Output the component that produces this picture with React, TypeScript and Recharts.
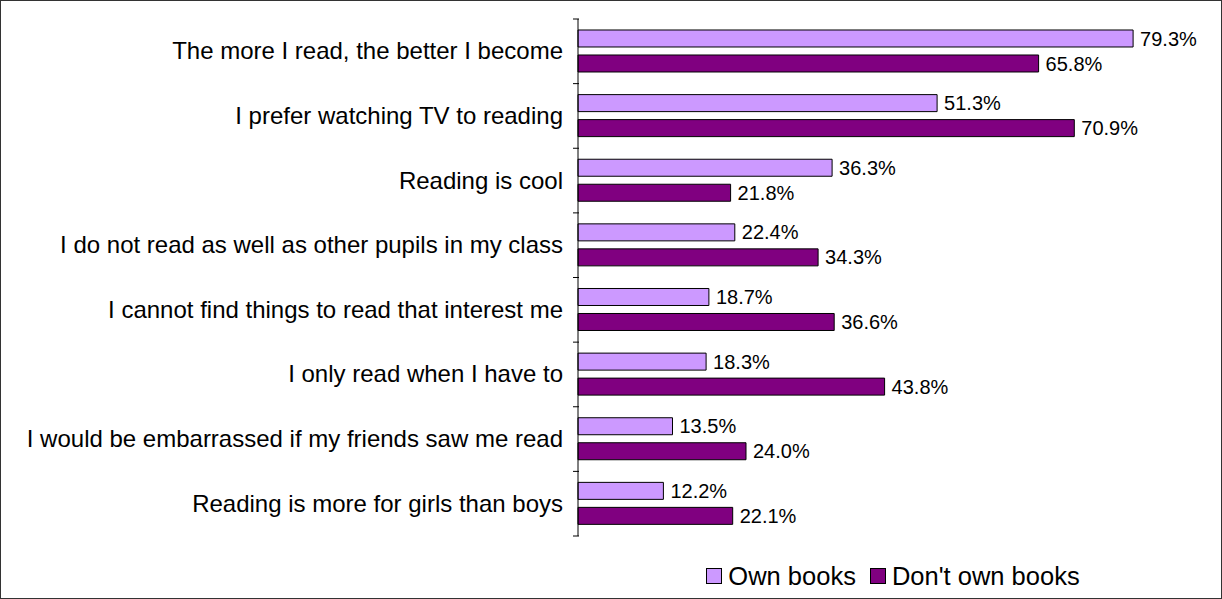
import React from 'react'
import { BarChart, Bar, XAxis, YAxis, Legend, LabelList } from 'recharts'

const categories = [
  'The more I read, the better I become',
  'I prefer watching TV to reading',
  'Reading is cool',
  'I do not read as well as other pupils in my class',
  'I cannot find things to read that interest me',
  'I only read when I have to',
  'I would be embarrassed if my friends saw me read',
  'Reading is more for girls than boys',
]
const ownBooks = [79.3, 51.3, 36.3, 22.4, 18.7, 18.3, 13.5, 12.2]
const noBooks = [65.8, 70.9, 21.8, 34.3, 36.6, 43.8, 24.0, 22.1]

const SERIES = [
  { key: 'own', name: 'Own books', color: '#CC99FF' },
  { key: 'dont', name: "Don't own books", color: '#800080' },
]

const data = categories.map((c, i) => ({ cat: c, own: ownBooks[i], dont: noBooks[i] }))

const FONT = '"Liberation Sans", Arial, sans-serif'
const pct = (v: any) => `${Number(v).toFixed(1)}%`

function CatTick({ x, y, payload, index }: any) {
  const half = payload?.offset ?? 0
  const last = index === categories.length - 1
  return (
    <g>
      <line x1={x + 3} x2={x + 9} y1={y - half} y2={y - half} stroke="#000" />
      {last && <line x1={x + 3} x2={x + 9} y1={y + half} y2={y + half} stroke="#000" />}
      <text x={x - 7} y={y} dy={8} textAnchor="end" fontSize={24} fill="#000" fontFamily={FONT}>
        {payload.value}
      </text>
    </g>
  )
}

function LegendBox() {
  return (
    <div style={{ display: 'flex', justifyContent: 'center', alignItems: 'center', height: 20, font: `25.5px ${FONT}`, color: '#000' }}>
      {SERIES.map((s, i) => (
        <span key={s.key} style={{ display: 'flex', alignItems: 'center', marginRight: i === 0 ? 14 : 0 }}>
          <span style={{ width: 14, height: 14, background: s.color, border: '1px solid #000', marginRight: 6 }} />
          {s.name}
        </span>
      ))}
    </div>
  )
}

export default function App() {
  return (
    <div style={{ position: 'absolute', left: 0, top: 0, width: 1222, height: 599, background: '#fff' }}>
      <BarChart
        width={1222}
        height={599}
        layout="vertical"
        data={data}
        margin={{ top: 19, right: 14, bottom: 43, left: 0 }}
        barCategoryGap="17%"
        barGap={8}
      >
        <XAxis type="number" domain={[0, 90]} hide />
        <YAxis
          type="category"
          dataKey="cat"
          width={578}
          axisLine={{ stroke: '#000' }}
          tickLine={false}
          tick={<CatTick />}
          interval={0}
        />
        <Legend
          verticalAlign="bottom"
          content={<LegendBox />}
          wrapperStyle={{ left: 578, width: 630, bottom: 13 }}
        />
        {SERIES.map((s) => (
          <Bar key={s.key} dataKey={s.key} name={s.name} fill={s.color} stroke="#000" strokeWidth={1} isAnimationActive={false}>
            <LabelList dataKey={s.key} position="right" offset={7} formatter={pct} fontSize={20} fill="#000" fontFamily={FONT} />
          </Bar>
        ))}
      </BarChart>
      <div style={{ position: 'absolute', inset: 0, border: '1px solid #333', pointerEvents: 'none' }} />
    </div>
  )
}
